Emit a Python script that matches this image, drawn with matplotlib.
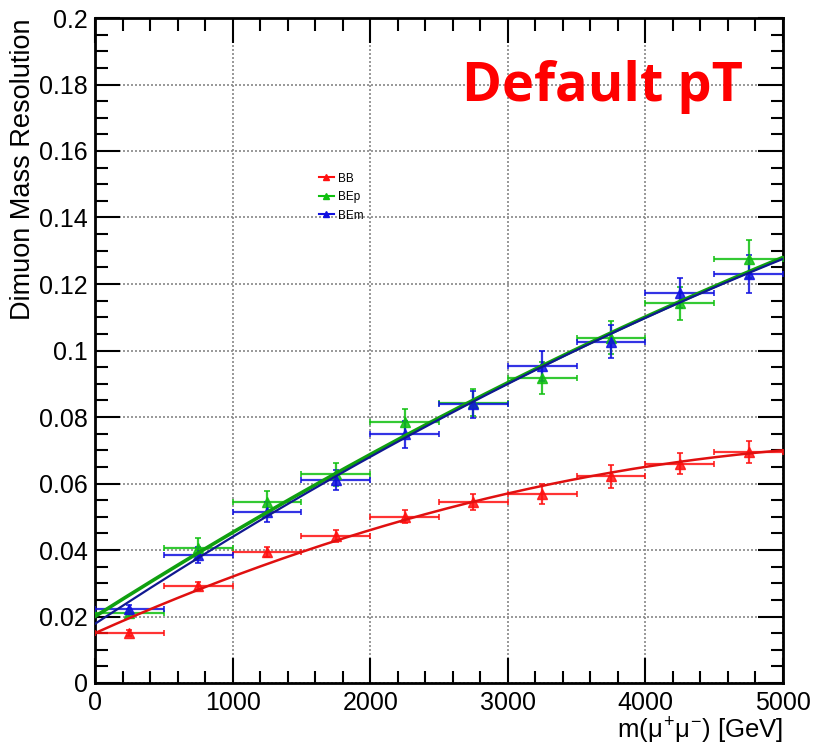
import numpy as np
import matplotlib
matplotlib.use("Agg")
import matplotlib.pyplot as plt
from matplotlib.lines import Line2D
from matplotlib.ticker import MultipleLocator

# ---- data ----
mass_centers = [250, 750, 1250, 1750, 2250, 2750, 3250, 3750, 4250, 4750]
mass_halfwidth = [250] * 10

bb_res = [0.0150, 0.0292, 0.0393, 0.0442, 0.0500, 0.0544, 0.0567, 0.0622, 0.0660, 0.0695]
bb_err = [0.0010, 0.0012, 0.0015, 0.0018, 0.0020, 0.0025, 0.0030, 0.0035, 0.0032, 0.0032]

bep_res = [0.0210, 0.0405, 0.0543, 0.0628, 0.0785, 0.0843, 0.0917, 0.1038, 0.1142, 0.1275]
bep_err = [0.0012, 0.0030, 0.0035, 0.0035, 0.0040, 0.0040, 0.0048, 0.0050, 0.0050, 0.0058]

bem_res = [0.0222, 0.0385, 0.0515, 0.0610, 0.0748, 0.0838, 0.0953, 0.1027, 0.1172, 0.1230]
bem_err = [0.0012, 0.0025, 0.0030, 0.0030, 0.0040, 0.0040, 0.0045, 0.0050, 0.0045, 0.0058]

# fitted polynomials (pol2 in mass/1000): a, b, c
fit_bb = [0.0150, 0.0185, -0.00150]
fit_bep = [0.0200, 0.0262, -0.00092]
fit_bem = [0.0178, 0.0272, -0.00105]

labels = ["BB", "BEp", "BEm"]
colors = ["#ff1010", "#10c010", "#1010e0"]
fit_colors = ["#e01010", "#10a010", "#101890"]

plt.rcParams['font.family'] = ['Liberation Sans', 'DejaVu Sans']
plt.rcParams['mathtext.fontset'] = 'custom'
plt.rcParams['mathtext.rm'] = 'Liberation Sans'
plt.rcParams['mathtext.it'] = 'Liberation Sans'

fig = plt.figure(figsize=(8.14, 7.45), dpi=100)
ax = fig.add_axes([95/814, 1-683/745, (783-95)/814, (683-18)/745])

xs = np.linspace(0, 5000, 400)
series = [(bb_res, bb_err, fit_bb), (bep_res, bep_err, fit_bep), (bem_res, bem_err, fit_bem)]
for (res, err, fit), col, fcol, lab in zip(series, colors, fit_colors, labels):
    ax.errorbar(mass_centers, res, xerr=mass_halfwidth, yerr=err, fmt='^', color=col,
                markersize=6.5, elinewidth=1.6, capsize=2, capthick=1.3, alpha=0.85, zorder=3)
for (res, err, fit), fcol, lw in zip(series, fit_colors, [1.8, 2.6, 1.6]):
    t = xs / 1000.0
    ax.plot(xs, fit[0] + fit[1]*t + fit[2]*t**2, color=fcol, lw=lw, zorder=4)

ax.set_xlim(0, 5000)
ax.set_ylim(0, 0.2)
ax.xaxis.set_major_locator(MultipleLocator(1000))
ax.xaxis.set_minor_locator(MultipleLocator(200))
ax.yaxis.set_major_locator(MultipleLocator(0.02))
ax.yaxis.set_minor_locator(MultipleLocator(0.005))
ax.set_yticks(np.arange(0, 0.2001, 0.02))
ax.set_yticklabels(["0", "0.02", "0.04", "0.06", "0.08", "0.1", "0.12", "0.14", "0.16", "0.18", "0.2"])
ax.tick_params(which='both', direction='in', top=True, right=True, labelsize=18, width=1.5)
ax.tick_params(which='major', length=18)
ax.tick_params(which='minor', length=9)
ax.tick_params(axis='x', pad=6)
ax.tick_params(axis='y', pad=5)
ax.grid(True, which='major', linestyle=(0, (1.2, 1.2)), color='#888888', lw=1.2)
for s in ax.spines.values():
    s.set_linewidth(2)

ax.set_ylabel("Dimuon Mass Resolution", fontsize=19.5, loc='top', labelpad=2)
ax.set_xlabel(r"m($\mu^{+}\mu^{-}$) [GeV]", fontsize=18.5, loc='right', labelpad=0)

handles = [Line2D([0], [0], color=c, marker='^', markersize=5, lw=1.5) for c in colors]
ax.legend(handles, labels, loc='upper left', bbox_to_anchor=(308/814, 1-162/745),
          bbox_transform=fig.transFigure, frameon=False, fontsize=8.5,
          handlelength=1.3, handletextpad=0.3, labelspacing=0.55)

fig.text(603/814, 1-87/745, "Default pT", color='#ff0000', fontsize=39, fontweight='bold',
         family=['Open Sans', 'DejaVu Sans'], ha='center', va='center')

fig.savefig("out.png", dpi=100)
